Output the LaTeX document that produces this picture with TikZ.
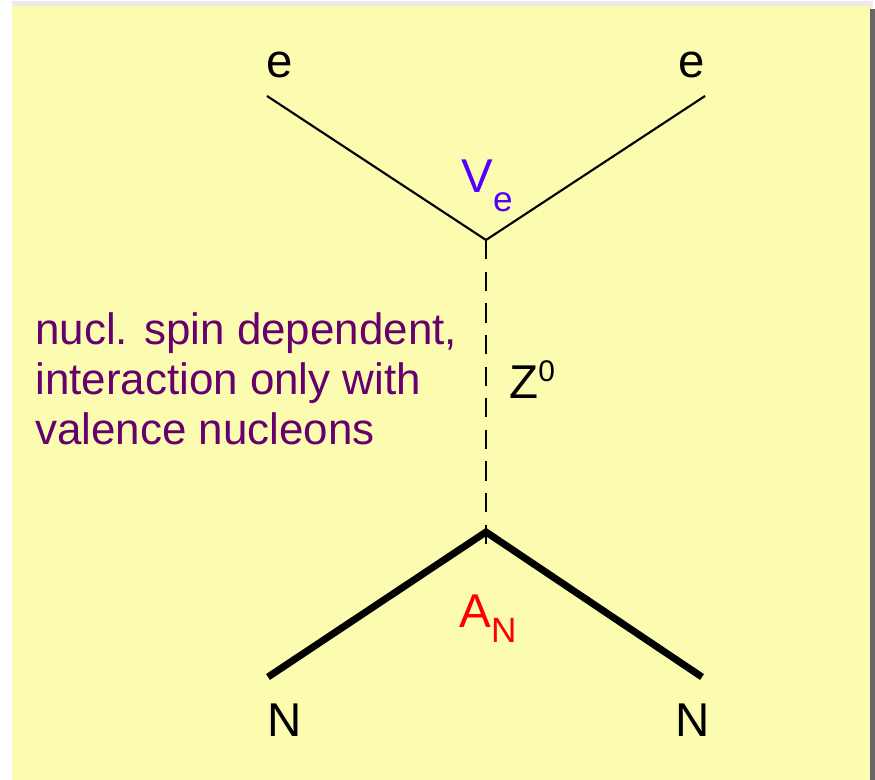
\documentclass[tikz,border=0pt]{standalone}
\usepackage{fontspec}
\setmainfont{Liberation Sans}
\definecolor{padyellow}{RGB}{252,252,176}
\definecolor{notepurple}{RGB}{102,0,110}
\definecolor{vcol}{RGB}{85,0,255}
\newcommand\lowsub[2]{\raisebox{#2}{\fontsize{20}{20}\selectfont #1}}
\newcommand\highsup[1]{\raisebox{9.5pt}{\fontsize{17}{17}\selectfont #1}}

\begin{document}
\begin{tikzpicture}[x=0.02cm, y=-0.02cm,
  every node/.style={font=\fontsize{27}{28.5}\selectfont, inner sep=0pt},
  lepton/.style={line width=1.2pt},
  nucleon/.style={line width=4pt},
  boson/.style={line width=0.8pt, dash pattern=on 11pt off 7pt},
  part/.style={black},
  cpl/.style={anchor=base west},
  note/.style={text=notepurple, align=left, anchor=north west}]

% backdrop with shadow
\fill[white] (0,0) rectangle (875,780);
\fill[black!8] (12,1) rectangle (873,780);
\fill[black!60] (870,9) rectangle (875,780);
\fill[padyellow] (12,6) rectangle (870,780);
\useasboundingbox (0,0) rectangle (875,780);

\coordinate (vtop) at (486,240);
\coordinate (vbot) at (486,532);
\coordinate (eL) at (267,96);
\coordinate (eR) at (705,96);
\coordinate (nL) at (268,677);
\coordinate (nR) at (702,677);

\draw[lepton] (eL) -- (vtop) -- (eR);
\draw[boson] (vtop) -- ([yshift=-12]vbot);
\draw[nucleon, line join=miter] (nL) -- (vbot) -- (nR);

\node[part] (e1) at (280,65) {e};
\node[part] (e2) at (692,65) {e};
\node[part] (n1) at (285,720) {N};
\node[part] (n2) at (693,720) {N};

\node[cpl, text=vcol] (ve) at (461,193) {V\lowsub{e}{-10.8pt}};
\node[cpl, text=red] (an) at (459,627) {A\lowsub{N}{-9pt}};
\node[cpl] (z0) at (509,398) {Z\highsup{0}};

\node[note, font=\fontsize{25}{28.5}\selectfont] (txt) at (35,312) {nucl. spin dependent,\\interaction only with\\valence nucleons};
\end{tikzpicture}
\end{document}
